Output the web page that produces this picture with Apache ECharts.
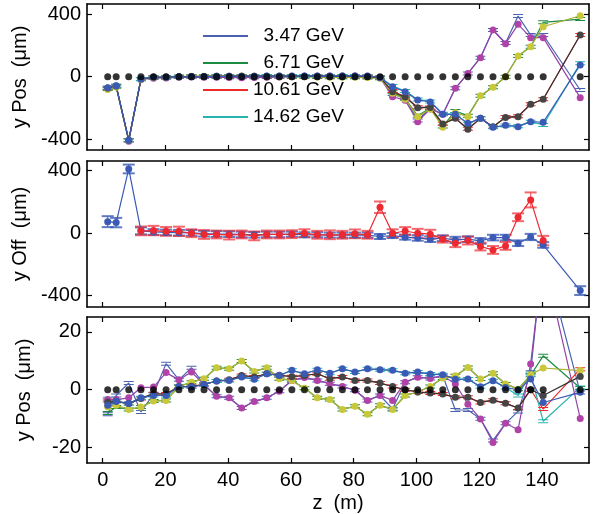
<!DOCTYPE html>
<html>
<head>
<meta charset="utf-8">
<script src="https://cdn.jsdelivr.net/npm/echarts@6/dist/echarts.min.js"></script>
<style>html,body{margin:0;padding:0;background:#fff}#main{width:594px;height:514px}</style>
</head>
<body>
<div id="main"></div>
<script>
// z positions (m)
var zPos = [1.6, 4.3, 8.3, 12.2, 16.2, 20.2, 24.3, 28.3, 32.3, 36.3, 40.3, 44.3, 48.3, 52.3, 56.3, 60.3, 64.3, 68.4, 72.4, 76.4, 80.4, 84.4, 88.4, 92.4, 96.4, 100.4, 104.4, 108.4, 112.4, 116.4, 120.4, 124.4, 128.4, 132.4, 136.4, 140.4, 152.2];
var nominal = [0,0,0,0,0,0,0,0,0,0,0,0,0,0,0,0,0,0,0,0,0,0,0,0,0,0,0,0,0,0,0,0,0,0,0,0,0];
var energies = ['  3.47 GeV', '  6.71 GeV', '10.61 GeV', '14.62 GeV'];

// top panel: y Pos (um)
var topA_mark = [-75, -62, -412, -18, -10, -8, -4, -2, -3, -4, -5, -6, -5, -4, -2, 0, 2, 3, 3, 4, 4, 2, -8, -128, -150, -287, -206, -240, -74, 21, 121, 298, 211, 334, 249, 249, -134];
var topA_line = [-70, -58, -405, -15, -6, -5, -2, 0, -1, -2, -3, -4, -3, -2, 0, 1, 2, 3, 2, 3, 3, 1, -6, -110, -140, -280, -200, -240, -74, 21, 121, 298, 215, 387, 266, 266, -85];
var topB_mark = [-82, -66, -408, -18, -6, -4, 0, 2, 3, 3, 3, 4, 3, 3, 2, 0, 0, -2, -3, -4, -3, -5, -10, -106, -144, -255, -206, -323, -230, -255, -121, -68, 0, 132, 191, 319, 389];
var topB_line = [-78, -64, -406, -16, -5, -3, 0, 2, 3, 3, 3, 4, 3, 3, 2, 0, 0, -2, -3, -4, -3, -5, -10, -100, -140, -250, -200, -318, -219, -250, -121, -68, 0, 132, 191, 347, 368];
var topC_mark = [-72, -60, -405, -15, -4, -3, 0, 1, 1, 2, 2, 3, 3, 3, 3, 3, 3, 3, 2, 2, 2, 1, -5, -96, -130, -198, -196, -302, -266, -336, -266, -319, -261, -255, -176, -144, 266];
var topC_line = [-72, -60, -405, -15, -4, -3, 0, 1, 1, 2, 2, 3, 3, 3, 3, 3, 3, 3, 2, 2, 2, 1, -5, -92, -128, -195, -196, -300, -266, -332, -266, -319, -258, -252, -176, -144, 266];
var topD_mark = [-70, -58, -405, -14, -4, -3, 0, 1, 1, 2, 2, 3, 3, 4, 4, 4, 4, 5, 4, 5, 4, 5, -5, -64, -96, -149, -161, -240, -240, -298, -266, -323, -310, -319, -287, -291, 75];
var topD_line = [-70, -58, -405, -14, -4, -3, 0, 1, 1, 2, 2, 3, 3, 4, 4, 4, 4, 5, 4, 5, 4, 5, -5, -60, -92, -145, -158, -236, -240, -300, -266, -323, -312, -316, -287, -308, 85];

// middle panel: y Off (um)
var offBlue    = [74, 68, 411, 15, 8, 5, 3, 2, -3, -5, -6, -8, -10, -8, -8, -6, -10, -10, -12, -12, -12, -12, -21, -15, -25, -30, -38, -32, -43, -38, -49, -28, -28, -64, -24, -75, -367];
var offBlueErr = [35, 30, 28, 22, 18, 18, 18, 18, 18, 18, 18, 18, 18, 18, 18, 16, 16, 16, 16, 16, 16, 16, 16, 16, 16, 18, 18, 18, 20, 18, 18, 18, 18, 18, 20, 18, 28];
var offRed     = [null, null, null, 15, 17, 12, 12, 0, -8, -8, -12, -8, -17, -8, -8, -6, 0, -10, -10, -10, -4, -10, 166, 0, 14, 0, -6, -38, -64, -47, -85, -107, -81, 102, 213, -47, null];
var offRedErr  = [null, null, null, 28, 30, 28, 30, 25, 28, 25, 28, 25, 28, 25, 25, 25, 25, 25, 28, 25, 28, 25, 37, 25, 25, 28, 28, 22, 25, 25, 25, 25, 25, 25, 48, 30, null];

// bottom panel: y Pos (um)
var botA_mark = [-3.4, -3.4, -2.8, 0.7, 0.9, 5.9, 3.4, 6.1, 1.8, -2.3, -2.8, -6.3, -4.1, -2.8, -0.5, 3.2, 4.2, 3.2, 2.1, 1.1, -0.2, -3.7, -2.0, -3.7, 2.6, 4.3, 3.9, 4.8, 2.0, -5.0, -10.1, -18.2, -11.6, -13.8, 8.9, 46, -9.9];
var botA_line = [-8.5, -2.0, 2.3, -7.7, -1.5, 9.0, 3.4, 7.6, 1.8, -2.3, -2.8, -6.3, -4.1, -2.8, -0.5, 3.2, 4.2, 3.2, 2.1, 1.1, -0.2, -3.7, -2.0, -6.6, 2.6, 4.3, 3.9, 4.8, -7.0, -7.0, -10.0, -17.5, -11.6, -7.5, 6.0, 48, -1.0];
var botB_mark = [-6.0, -5.4, -6.8, -6.0, -3.9, -3.7, 1.1, 2.6, 3.8, 7.6, 7.2, 9.9, 6.3, 7.6, 3.8, 3.2, 0.5, -2.8, -3.4, -6.8, -5.7, -8.5, -5.4, -6.8, -2.0, -0.8, 1.1, 4.0, 4.8, 7.7, 3.7, 5.7, 2.0, 0.2, 5.2, 7.5, 6.6];
var botB_line = [-8.0, -6.0, -6.8, -6.0, -3.9, -3.7, 1.1, 2.6, 3.8, 7.6, 7.2, 9.9, 6.3, 7.6, 3.8, 3.2, 0.5, -2.8, -3.4, -6.8, -5.7, -8.5, -5.4, -6.8, -2.0, -0.8, 1.1, 4.0, 4.8, 7.7, 3.7, 5.7, 2.0, 0.2, 5.0, 11.7, 0.6];
var botC_mark = [-4.3, -4.0, -4.8, -3.0, -1.4, -1.5, 1.1, 1.2, 1.8, 3.0, 3.4, 4.9, 4.4, 5.5, 5.0, 4.5, 4.9, 5.5, 3.8, 4.4, 3.2, 3.2, 2.3, 1.1, 0.0, -0.8, -1.1, -1.5, -2.6, -2.6, -4.4, -3.6, -4.7, -6.3, 0.0, -2.0, 4.6];
var botC_line = [-3.7, -4.0, -4.8, -3.0, -1.4, -1.5, 1.1, 1.2, 1.8, 3.0, 3.4, 4.9, 4.4, 5.5, 5.0, 4.5, 4.9, 5.5, 3.8, 4.4, 3.2, 3.2, 2.3, 1.1, 0.0, -0.8, -1.1, -1.5, -2.6, -2.6, -4.4, -3.6, -4.7, -6.3, 0.0, -6.7, 7.1];
var botD_mark = [-5.4, -4.0, -4.8, -2.8, -2.0, -2.0, 1.1, 0.9, 1.8, 3.0, 3.2, 4.4, 3.6, 5.5, 4.9, 6.7, 5.5, 6.9, 5.7, 7.2, 6.1, 7.2, 6.9, 6.7, 5.7, 6.1, 5.4, 5.2, 3.6, 3.7, 1.0, 3.1, 0.8, -0.1, 3.7, -4.4, -0.9];
var botD_line = [-3.1, -4.0, -4.8, -2.8, -2.0, -2.0, 1.1, 0.9, 1.8, 3.0, 3.2, 4.4, 3.6, 5.5, 4.9, 6.7, 5.5, 6.9, 5.7, 7.2, 6.1, 7.2, 6.9, 6.7, 5.7, 6.1, 5.4, 5.2, 3.6, 3.7, 1.0, 3.1, 0.8, -2.0, 5.6, -10.9, 0.8];

var xTicks = [0, 20, 40, 60, 80, 100, 120, 140];
var yTicks = [[-400, 0, 400], [-400, 0, 400], [-20, 0, 20]];
var yRanges = [[-468, 464], [-472, 462], [-25.3, 25.1]];
var yNames = ['y Pos  (\u03bcm)', 'y Off  (\u03bcm)', 'y Pos  (\u03bcm)'];

var FONT = '"Liberation Sans", Arial, sans-serif';
var CAP = 'path://M0,0H10V1H0Z M0,3H10V4H0Z';
var lineColors = ['#4a62b0', '#1c8c40', '#f02a2a', '#26b4ae'];
var markColors = ['#b042a8', '#c8c83a', '#454545', '#3a5ab5'];
var markLineColors = ['#9244a8', '#aab032', '#333333', '#3a5ab5'];

function extend(a, b){
	for (var k in b) a[k] = b[k];
	return a;
}

function pairs(vals){
	var out = [];
	for (var i = 0; i < zPos.length; i++){
		if (vals[i] == null) continue;
		out.push([zPos[i], vals[i]]);
	}
	return out;
}

function triples(vals, errs){
	var out = [];
	for (var i = 0; i < zPos.length; i++){
		if (vals[i] == null) continue;
		out.push([zPos[i], vals[i], errs[i]]);
	}
	return out;
}

//带端帽的线（误差帽）
function capLine(name, g, vals, color){
	return {
		name: name, type: 'line', xAxisIndex: 2*g, yAxisIndex: 2*g,
		data: pairs(vals), symbol: CAP, symbolSize: [10, 4], showAllSymbol: true,
		lineStyle: {color: color, width: 1.2}, itemStyle: {color: color},
		emphasis: {disabled: true}, z: 2
	};
}

//圆点连线
function dotLine(g, vals, mColor, lColor){
	return {
		type: 'line', xAxisIndex: 2*g, yAxisIndex: 2*g,
		data: pairs(vals), symbol: 'circle', symbolSize: 7, showAllSymbol: true,
		lineStyle: {color: lColor, width: 1.2}, itemStyle: {color: mColor},
		emphasis: {disabled: true}, z: 3
	};
}

//名义位置黑点
function dots(g){
	return {
		type: 'scatter', xAxisIndex: 2*g, yAxisIndex: 2*g,
		data: pairs(nominal), symbol: 'circle', symbolSize: 7,
		itemStyle: {color: '#000'}, emphasis: {disabled: true}, z: 4
	};
}

//误差棒
function errBars(g, vals, errs, color){
	return {
		type: 'custom', xAxisIndex: 2*g, yAxisIndex: 2*g,
		data: triples(vals, errs), z: 2,
		renderItem: function(params, api){
			var x = api.value(0), y = api.value(1), e = api.value(2);
			var lo = api.coord([x, y - e]), hi = api.coord([x, y + e]);
			var hw = 6;
			return {type: 'group', children: [
				{type: 'line', shape: {x1: lo[0], y1: lo[1], x2: hi[0], y2: hi[1]}, style: {stroke: color, lineWidth: 1.2}},
				{type: 'line', shape: {x1: lo[0]-hw, y1: lo[1], x2: lo[0]+hw, y2: lo[1]}, style: {stroke: color, lineWidth: 2}},
				{type: 'line', shape: {x1: hi[0]-hw, y1: hi[1], x2: hi[0]+hw, y2: hi[1]}, style: {stroke: color, lineWidth: 2}}
			]};
		}
	};
}

var grids = [
	{left: 87, top: 4, width: 502, height: 146},
	{left: 87, top: 161, width: 502, height: 146},
	{left: 87, top: 317, width: 502, height: 146}
];

var axisLineStyle = {color: '#000', width: 1.6};
var tickStyle = {color: '#000', width: 1.2};
var labelStyle = {fontSize: 20, color: '#000', fontFamily: FONT};
var xAxes = [], yAxes = [];
for (var g = 0; g < 3; g++){
	xAxes.push({
		gridIndex: g, type: 'value', min: -5, max: 155, position: 'bottom',
		axisLine: {onZero: false, lineStyle: axisLineStyle},
		axisTick: {inside: true, length: 5, customValues: xTicks, lineStyle: tickStyle},
		axisLabel: extend({show: g == 2, customValues: xTicks, margin: 7}, labelStyle),
		splitLine: {show: false},
		name: g == 2 ? 'z  (m)' : '', nameLocation: 'middle', nameGap: 30,
		nameTextStyle: {fontSize: 20, color: '#000', fontFamily: FONT}
	});
	xAxes.push({
		gridIndex: g, type: 'value', min: -5, max: 155, position: 'top',
		axisLine: {onZero: false, lineStyle: axisLineStyle},
		axisTick: {inside: true, length: 5, customValues: xTicks, lineStyle: tickStyle},
		axisLabel: {show: false, customValues: xTicks},
		splitLine: {show: false}
	});
	yAxes.push({
		gridIndex: g, type: 'value', min: yRanges[g][0], max: yRanges[g][1], position: 'left',
		axisLine: {onZero: false, lineStyle: axisLineStyle},
		axisTick: {inside: true, length: 5, customValues: yTicks[g], lineStyle: tickStyle},
		axisLabel: extend({customValues: yTicks[g], margin: 6}, labelStyle),
		splitLine: {show: false},
		name: yNames[g], nameLocation: 'middle', nameGap: 53,
		nameTextStyle: {fontSize: 20, color: '#000', fontFamily: FONT}
	});
	yAxes.push({
		gridIndex: g, type: 'value', min: yRanges[g][0], max: yRanges[g][1], position: 'right',
		axisLine: {onZero: false, lineStyle: axisLineStyle},
		axisTick: {inside: true, length: 5, customValues: yTicks[g], lineStyle: tickStyle},
		axisLabel: {show: false, customValues: yTicks[g]},
		splitLine: {show: false}
	});
}

var series = [];
// top panel
var topLines = [topA_line, topB_line, topC_line, topD_line];
var topMarks = [topA_mark, topB_mark, topC_mark, topD_mark];
for (var i = 0; i < 4; i++) series.push(capLine(energies[i], 0, topLines[i], lineColors[i]));
for (var i = 0; i < 4; i++) series.push(dotLine(0, topMarks[i], markColors[i], markLineColors[i]));
series.push(dots(0));
// middle panel
series.push(errBars(1, offBlue, offBlueErr, 'rgba(58,90,181,0.8)'));
series.push(dotLine(1, offBlue, '#3a5ab5', '#3a5ab5'));
series.push(errBars(1, offRed, offRedErr, 'rgba(236,40,50,0.7)'));
series.push(dotLine(1, offRed, '#ec2830', '#ec2830'));
// bottom panel
var botLines = [botA_line, botB_line, botC_line, botD_line];
var botMarks = [botA_mark, botB_mark, botC_mark, botD_mark];
for (var i = 0; i < 4; i++) series.push(capLine(null, 2, botLines[i], lineColors[i]));
for (var i = 0; i < 4; i++) series.push(dotLine(2, botMarks[i], markColors[i], markLineColors[i]));
series.push(dots(2));

var myChart = echarts.init(document.getElementById('main'));
myChart.setOption({
	animation: false,
	backgroundColor: '#fff',
	grid: grids,
	xAxis: xAxes,
	yAxis: yAxes,
	legend: {
		data: energies, orient: 'vertical', left: 198, top: 21,
		itemWidth: 45, itemHeight: 2, itemGap: 7, icon: 'rect', selectedMode: false,
		textStyle: {fontSize: 19, color: '#000', fontFamily: FONT, lineHeight: 20}
	},
	series: series
});
</script>
</body>
</html>
